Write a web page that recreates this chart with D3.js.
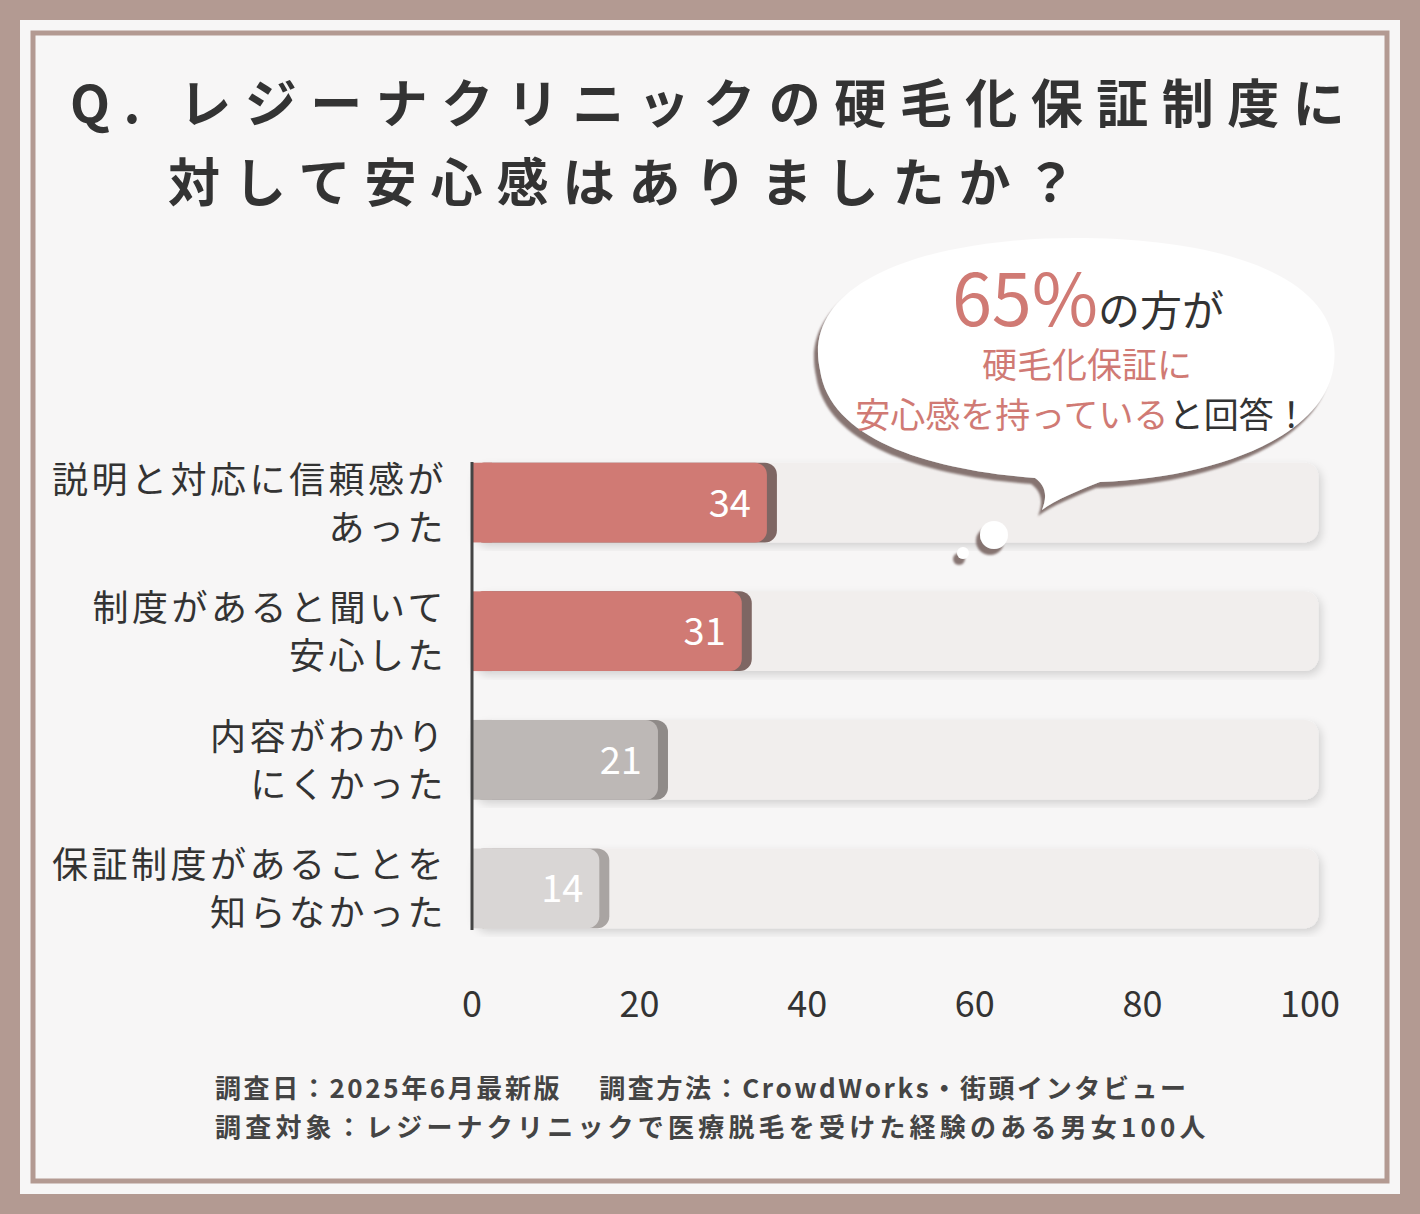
<!doctype html>
<html>
<head>
<meta charset="utf-8">
<script src="https://d3js.org/d3.v7.min.js"></script>
<style>body{margin:0;background:#b39a92;}</style>
</head>
<body>
<svg id="c" width="1420" height="1214"></svg>
<script>
const categories = [["説明と対応に信頼感が","あった"],["制度があると聞いて","安心した"],["内容がわかり","にくかった"],["保証制度があることを","知らなかった"]];
const values = [34, 31, 21, 14];
const barColors = ["#d07a74", "#d07a74", "#bdb8b6", "#d9d6d5"];
const shadowColors = ["#7e6663", "#7e6663", "#8f8a88", "#a9a4a2"];
const ticks = [0, 20, 40, 60, 80, 100];

const svg = d3.select("#c");
const font = "'Noto Sans CJK JP', sans-serif";
svg.append("rect").attr("width",1420).attr("height",1214).attr("fill","#b39a92");
svg.append("rect").attr("x",20).attr("y",20).attr("width",1380).attr("height",1174).attr("fill","#f7f6f6");
svg.append("rect").attr("x",33).attr("y",33).attr("width",1354).attr("height",1148).attr("fill","none").attr("stroke","#b39a92").attr("stroke-width",5);

// title
svg.append("text").attr("x",70).attr("y",123).attr("font-family",font).attr("font-weight",700)
  .attr("font-size",52).attr("letter-spacing",13.5).attr("fill","#333").text("Q. レジーナクリニックの硬毛化保証制度に");
svg.append("text").attr("x",168).attr("y",202).attr("font-family",font).attr("font-weight",700)
  .attr("font-size",52).attr("letter-spacing",14).attr("fill","#333").text("対して安心感はありましたか？");

const x = d3.scaleLinear().domain([0,100]).range([472,1310]);
const y = d3.scaleBand().domain(d3.range(values.length)).range([437,954]).paddingInner(0.38).paddingOuter(0.2);
const bh = y.bandwidth();

const defs = svg.append("defs");
defs.append("filter").attr("id","sh").append("feDropShadow").attr("dx",3).attr("dy",4).attr("stdDeviation",4).attr("flood-color","#000").attr("flood-opacity",0.15);

const g = svg.append("g");
values.forEach((v,i)=>{
  const yy = y(i);
  g.append("rect").attr("x",x(0)).attr("y",yy).attr("width",x(101)-x(0)).attr("height",bh).attr("rx",14)
    .attr("fill","#f1eeed").attr("filter","url(#sh)");
  g.append("rect").attr("x",x(0)).attr("y",yy).attr("width",x(v)-x(0)+20).attr("height",bh).attr("rx",12).attr("fill",shadowColors[i]);
  g.append("rect").attr("x",x(0)).attr("y",yy).attr("width",x(v)-x(0)+10).attr("height",bh).attr("rx",12).attr("fill",barColors[i]);
  g.append("rect").attr("x",x(0)).attr("y",yy).attr("width",20).attr("height",bh).attr("fill",barColors[i]);
  g.append("text").attr("x",x(v)-6).attr("y",yy+bh/2+14).attr("text-anchor","end").attr("font-family",font)
    .attr("font-size",38).attr("fill","#fff").text(v);
  categories[i].forEach((t,j)=>{
    g.append("text").attr("x",447).attr("y",yy+bh/2-10+j*48).attr("text-anchor","end").attr("font-family",font)
      .attr("font-size",36).attr("letter-spacing",3.5).attr("fill","#333").text(t);
  });
});
svg.append("line").attr("x1",x(0)).attr("x2",x(0)).attr("y1",462).attr("y2",930).attr("stroke","#444").attr("stroke-width",3);
ticks.forEach(t=>{
  svg.append("text").attr("x",x(t)).attr("y",1017).attr("text-anchor","middle").attr("font-family",font)
    .attr("font-size",36).attr("fill","#333").text(t);
});

// bubble
const bub = svg.append("g").attr("filter","url(#sh2)");
const f2 = defs.append("filter").attr("id","sh2");
f2.append("feDropShadow").attr("dx",-4).attr("dy",6).attr("stdDeviation",1).attr("flood-color","#7a6663").attr("flood-opacity",0.9);
bub.append("path").attr("d","M820,370 C800,280 930,238 1075,238 C1230,238 1350,280 1333,370 C1320,440 1210,478 1100,482 C1080,490 1055,500 1042,510 C1048,495 1045,485 1035,478 C930,470 830,440 820,370 Z").attr("fill","#fff");
bub.append("circle").attr("cx",994).attr("cy",535).attr("r",14).attr("fill","#fff");
bub.append("circle").attr("cx",963).attr("cy",553).attr("r",6).attr("fill","#fff");

const t1 = svg.append("text").attr("x",1088).attr("y",326).attr("text-anchor","middle").attr("font-family",font);
t1.append("tspan").attr("font-size",72).attr("fill","#d07a74").text("65%");
t1.append("tspan").attr("font-size",42).attr("fill","#333").text("の方が");
svg.append("text").attr("x",1087).attr("y",378).attr("text-anchor","middle").attr("font-family",font)
  .attr("font-size",35).attr("fill","#d07a74").text("硬毛化保証に");
const t3 = svg.append("text").attr("x",1082).attr("y",428).attr("text-anchor","middle").attr("font-family",font).attr("font-size",35);
t3.append("tspan").attr("fill","#d07a74").text("安心感を持っている");
t3.append("tspan").attr("fill","#333").text("と回答！");

// footer
svg.append("text").attr("x",215).attr("y",1098).attr("font-family",font).attr("font-weight",700).attr("font-size",26)
  .attr("fill","#444").attr("letter-spacing",2.6).text("調査日：2025年6月最新版　 調査方法：CrowdWorks・街頭インタビュー");
svg.append("text").attr("x",215).attr("y",1137).attr("font-family",font).attr("font-weight",700).attr("font-size",26)
  .attr("fill","#444").attr("letter-spacing",4.2).text("調査対象：レジーナクリニックで医療脱毛を受けた経験のある男女100人");
</script>
</body>
</html>
